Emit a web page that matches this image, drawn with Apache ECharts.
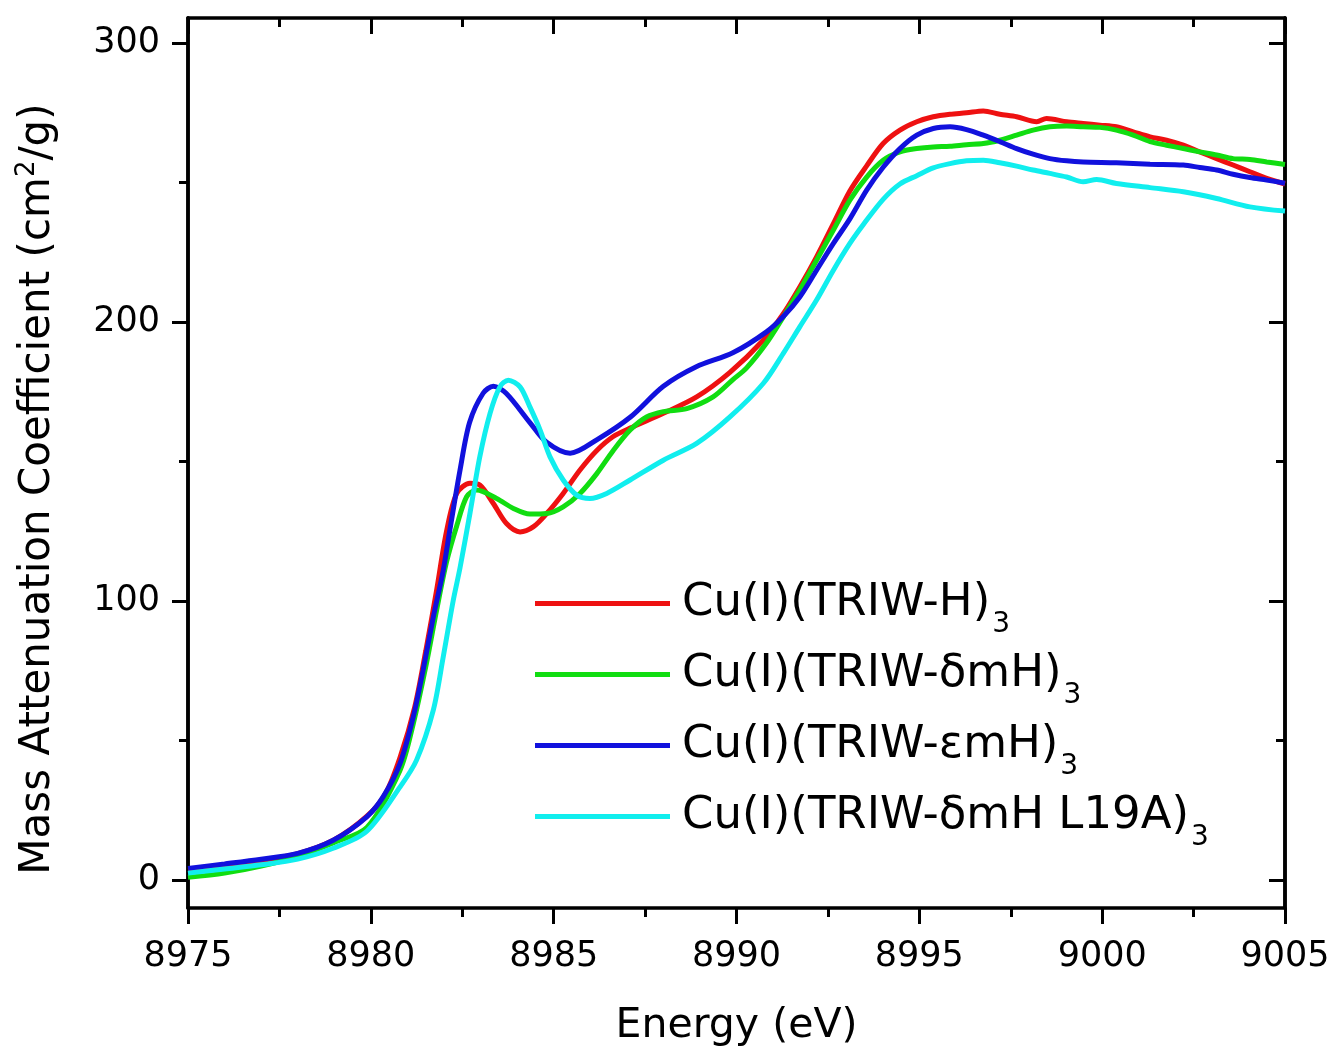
<!DOCTYPE html>
<html>
<head>
<meta charset="utf-8">
<script src="https://cdn.jsdelivr.net/npm/echarts@6/dist/echarts.min.js"></script>
<style>html,body{margin:0;padding:0;background:#fff}#c{width:1334px;height:1057px}</style>
</head>
<body>
<div id="c"></div>
<script>
// ---- data ----
const seriesNames = ['Cu(I)(TRIW-H)', 'Cu(I)(TRIW-\u03B4mH)', 'Cu(I)(TRIW-\u03B5mH)', 'Cu(I)(TRIW-\u03B4mH L19A)'];
const seriesColors = ['#ee1111', '#11dd11', '#1111dd', '#11eeee'];

const energyH = [8975,8976,8977,8978,8979,8979.9,8980.4,8980.8,8981.2,8981.5,8981.8,8982.07,8982.35,8982.71,8982.98,8983.35,8983.71,8984.08,8984.44,8984.81,8985.26,8985.72,8986.18,8986.63,8987.09,8988.0,8988.91,8989.82,8990.73,8991.28,8991.73,8992.19,8992.65,8993.10,8993.56,8994.01,8994.47,8994.93,8995.38,8995.84,8996.29,8996.75,8997.20,8997.66,8998.21,8998.48,8999.03,8999.48,8999.94,9000.39,9000.85,9001.31,9001.76,9002.22,9002.67,9003.13,9003.58,9004.04,9004.50,9005];
const valueH  = [3.5,5,7,9.5,14.5,23,31,44,62,82,104,125,138.6,142.2,141.6,135,127.8,124.8,126.6,131.4,138.6,147,154,159,162,167.3,173.2,182,193.5,203,212.6,223.4,235.3,247,256,264,268.8,271.8,273.6,274.5,275,275.7,274.5,273.6,271.8,273,271.8,271.2,270.6,270,268.2,266.4,265.2,263.4,261,258.6,256.3,253.9,251.5,249.5];

const energyD = [8975,8976,8977,8978,8979,8979.9,8980.8,8981.16,8981.52,8981.8,8982.07,8982.35,8982.62,8982.89,8983.44,8983.90,8984.35,8984.81,8985.26,8985.72,8986.18,8986.63,8987.09,8987.54,8988.0,8988.64,8989.36,8989.91,8990.27,8990.82,8991.28,8991.73,8992.19,8992.65,8993.10,8993.56,8994.01,8994.47,8994.93,8995.38,8995.84,8996.29,8996.75,8997.20,8997.66,8998.11,8998.57,8999.03,8999.48,8999.94,9000.39,9000.85,9001.31,9001.76,9002.22,9002.67,9003.13,9003.58,9004.04,9004.50,9005];
const valueD  = [1,2.5,5,8.5,13.5,19,39.4,56,77.6,96.8,114,127,137.4,139.8,136.8,133.2,131.2,131.4,133.8,138.6,145.7,154,161.3,166,167.9,169,173.2,179.5,183.5,192.5,201.9,211.5,222.2,233,243.7,252,258,261,262.2,262.8,263,263.6,264,265.2,267,268.8,270,270.3,270,269.8,268.8,267,264.7,263.4,262.2,261,259.9,258.6,258.3,257.4,256.5];

const energyE = [8975,8976,8977,8978,8978.97,8979.89,8980.34,8980.80,8981.16,8981.43,8981.71,8981.98,8982.16,8982.44,8982.7,8983.07,8983.35,8983.7,8984.35,8984.8,8985.45,8986.2,8987.1,8988.0,8988.9,8989.9,8990.82,8991.28,8991.73,8992.19,8992.65,8993.10,8993.56,8994.01,8994.47,8994.93,8995.38,8995.84,8996.29,8996.75,8997.20,8997.66,8998.11,8998.57,8999.03,8999.48,9000.39,9001.31,9002.22,9002.67,9003.13,9003.58,9004.04,9004.50,9005];
const valueE  = [4.2,5.8,7.5,9.6,14.3,22.7,29.9,41.8,58.5,75.3,94.4,111,125.4,147,164,174.5,177,174.5,164,157,153,158,166,177,184,189,196.5,202,209,218.6,228.2,237,247.3,255.5,262.2,267,269.4,270,269,267,264.7,262.2,260.2,258.6,257.8,257.4,257.1,256.6,256.3,255.4,254.5,253,251.8,250.9,249.8];

const energyL = [8975,8976,8977,8978,8978.97,8979.89,8980.80,8981.25,8981.71,8981.98,8982.25,8982.44,8982.71,8982.98,8983.26,8983.53,8983.76,8984.08,8984.35,8984.63,8984.90,8985.26,8985.63,8985.99,8986.45,8987.09,8988.0,8988.91,8989.82,8990.73,8991.28,8991.73,8992.19,8992.65,8993.10,8993.47,8994.01,8994.47,8994.93,8995.38,8995.84,8996.29,8996.75,8997.20,8997.66,8998.11,8998.57,8999.03,8999.48,8999.85,9000.39,9001.31,9002.22,9003.13,9004.04,9005];
const valueL  = [2.5,4,5.5,7.5,11.4,17.5,33.4,43,61,80,100,112,131.4,151.7,167.3,176.8,179.2,176.8,169.6,161.3,151.7,143.4,138,136.8,138.6,143.4,150.5,156.5,166,178,188.8,198.3,207.9,218.6,228.2,235,244,249.5,252.5,255.3,256.8,257.8,258,257.1,255.9,254.5,253.3,252,250.3,251.1,249.7,248.2,246.7,244.3,241.3,239.8];

const xTickLabels = ['8975','8980','8985','8990','8995','9000','9005'];
const yMajorTicks = [0, 100, 200, 300];
const yMinorTicks = [50, 150, 250];

// ---- chart ----
const FONT = '"DejaVu Sans", "Liberation Sans", Arial, sans-serif';
const energies = [energyH, energyD, energyE, energyL];
const values = [valueH, valueD, valueE, valueL];

const chart = echarts.init(document.getElementById('c'), null, {renderer: 'canvas'});

const axisLineStyle = {color: '#000', width: 3.5};
const tickStyle = {color: '#000', width: 3};

function yAxisDef(position, ticks, len, inside, labels) {
  return {
    type: 'value', position: position, min: -10, max: 309,
    axisLine: {show: true, onZero: false, lineStyle: axisLineStyle},
    axisTick: {show: true, inside: inside, length: len, lineStyle: tickStyle, customValues: ticks},
    axisLabel: labels ? {show: true, customValues: ticks, fontSize: 35, color: '#000', fontFamily: FONT, margin: 28} : {show: false},
    splitLine: {show: false}
  };
}

const option = {
  backgroundColor: '#fff',
  animation: false,
  grid: {left: 188, right: 49, top: 18, bottom: 149, containLabel: false},
  xAxis: [
    {
      type: 'value', position: 'bottom', min: 8975, max: 9005, interval: 5,
      name: 'Energy (eV)', nameLocation: 'middle', nameGap: 98,
      nameTextStyle: {fontSize: 41, color: '#000', fontFamily: FONT},
      axisLine: {show: true, onZero: false, lineStyle: axisLineStyle},
      axisTick: {show: true, inside: false, length: 16, lineStyle: tickStyle},
      minorTick: {show: true, splitNumber: 2, length: 9, lineStyle: tickStyle},
      axisLabel: {fontSize: 35, color: '#000', fontFamily: FONT, margin: 31,
        formatter: function (v) { const i = Math.round((v - 8975) / 5); return xTickLabels[i] !== undefined ? xTickLabels[i] : ''; }},
      splitLine: {show: false}
    },
    {
      type: 'value', position: 'top', min: 8975, max: 9005, interval: 5,
      axisLine: {show: true, onZero: false, lineStyle: axisLineStyle},
      axisTick: {show: true, inside: true, length: 16, lineStyle: tickStyle},
      minorTick: {show: true, splitNumber: 2, length: 9, lineStyle: tickStyle},
      axisLabel: {show: false},
      splitLine: {show: false}
    }
  ],
  yAxis: [
    Object.assign(yAxisDef('left', yMajorTicks, 16, false, true), {
      name: '{a|Mass Attenuation Coefficient (cm}{b|2}{a|/g)}',
      nameLocation: 'middle', nameGap: 126,
      nameTextStyle: {color: '#000', fontFamily: FONT, padding: [0, 52, 0, 0],
        rich: {a: {fontSize: 42, fontFamily: FONT, color: '#000'},
               b: {fontSize: 26, fontFamily: FONT, color: '#000', verticalAlign: 'top', padding: [0, 0, 22, 0]}}}
    }),
    yAxisDef('left', yMinorTicks, 9, false, false),
    yAxisDef('right', yMajorTicks, 16, true, false),
    yAxisDef('right', yMinorTicks, 9, true, false)
  ],
  legend: {
    show: true, orient: 'vertical', left: 530, top: 563,
    itemWidth: 135, itemHeight: 5, itemGap: 0, icon: 'rect',
    data: seriesNames,
    formatter: function (name) { return '{n|' + name + '}{s|3}'; },
    textStyle: {
      color: '#000', fontFamily: FONT,
      rich: {
        n: {fontSize: 45, lineHeight: 50, fontFamily: FONT, color: '#000', padding: [0, 0, 0, 7]},
        s: {fontSize: 28, lineHeight: 20, fontFamily: FONT, color: '#000', padding: [43, 0, 0, 2]}
      }
    }
  },
  series: seriesNames.map(function (name, k) {
    return {
      name: name, type: 'line', xAxisIndex: 0, yAxisIndex: 0,
      showSymbol: false, symbol: 'none', smooth: 0.3,
      lineStyle: {color: seriesColors[k], width: 5},
      itemStyle: {color: seriesColors[k]},
      data: energies[k].map(function (e, i) { return [e, values[k][i]]; })
    };
  })
};
chart.setOption(option);
</script>
</body>
</html>
